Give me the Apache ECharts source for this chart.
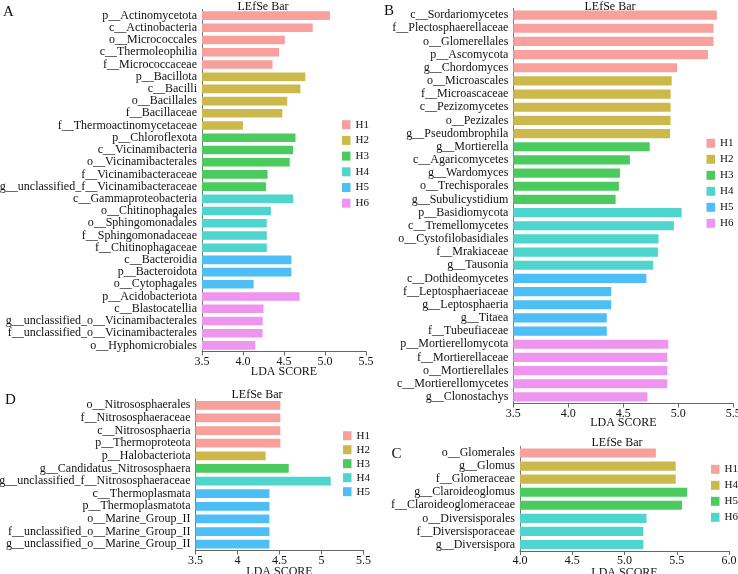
<!DOCTYPE html>
<html><head><meta charset="utf-8">
<script src="https://cdn.jsdelivr.net/npm/echarts@6/dist/echarts.min.js"></script>
<style>html,body{margin:0;padding:0;background:#fff}#c{width:738px;height:574px}</style>
</head><body><div id="c"></div>
<script>
// ---------- Panel A ----------
const labelsA = ["p__Actinomycetota","c__Actinobacteria","o__Micrococcales","c__Thermoleophilia","f__Micrococcaceae",
 "p__Bacillota","c__Bacilli","o__Bacillales","f__Bacillaceae","f__Thermoactinomycetaceae",
 "p__Chloroflexota","c__Vicinamibacteria","o__Vicinamibacterales","f__Vicinamibacteraceae","g__unclassified_f__Vicinamibacteraceae",
 "c__Gammaproteobacteria","o__Chitinophagales","o__Sphingomonadales","f__Sphingomonadaceae","f__Chitinophagaceae",
 "c__Bacteroidia","p__Bacteroidota","o__Cytophagales",
 "p__Acidobacteriota","c__Blastocatellia","g__unclassified_o__Vicinamibacterales","f__unclassified_o__Vicinamibacterales","o__Hyphomicrobiales"];
const valuesA = [5.06,4.85,4.51,4.44,4.36, 4.76,4.70,4.54,4.48,4.00, 4.64,4.61,4.57,4.30,4.28, 4.61,4.34,4.29,4.29,4.29, 4.59,4.59,4.13, 4.69,4.25,4.24,4.24,4.15];
const groupsA = ["H1","H1","H1","H1","H1","H2","H2","H2","H2","H2","H3","H3","H3","H3","H3","H4","H4","H4","H4","H4","H5","H5","H5","H6","H6","H6","H6","H6"];
const legendA = ["H1","H2","H3","H4","H5","H6"];

// ---------- Panel B ----------
const labelsB = ["c__Sordariomycetes","f__Plectosphaerellaceae","o__Glomerellales","p__Ascomycota","g__Chordomyces",
 "o__Microascales","f__Microascaceae","c__Pezizomycetes","o__Pezizales","g__Pseudombrophila",
 "g__Mortierella","c__Agaricomycetes","g__Wardomyces","o__Trechisporales","g__Subulicystidium",
 "p__Basidiomycota","c__Tremellomycetes","o__Cystofilobasidiales","f__Mrakiaceae","g__Tausonia",
 "c__Dothideomycetes","f__Leptosphaeriaceae","g__Leptosphaeria","g__Titaea","f__Tubeufiaceae",
 "p__Mortierellomycota","f__Mortierellaceae","o__Mortierellales","c__Mortierellomycetes","g__Clonostachys"];
const valuesB = [5.35,5.32,5.32,5.27,4.99, 4.94,4.93,4.93,4.93,4.925, 4.74,4.56,4.47,4.46,4.43, 5.03,4.96,4.82,4.815,4.77, 4.71,4.39,4.39,4.35,4.35, 4.91,4.90,4.90,4.90,4.72];
const groupsB = ["H1","H1","H1","H1","H1","H2","H2","H2","H2","H2","H3","H3","H3","H3","H3","H4","H4","H4","H4","H4","H5","H5","H5","H5","H5","H6","H6","H6","H6","H6"];
const legendB = ["H1","H2","H3","H4","H5","H6"];

// ---------- Panel C ----------
const labelsC = ["o__Glomerales","g__Glomus","f__Glomeraceae","g__Claroideoglomus","f__Claroideoglomeraceae","o__Diversisporales","f__Diversisporaceae","g__Diversispora"];
const valuesC = [5.30,5.49,5.49,5.60,5.55,5.21,5.18,5.18];
const groupsC = ["H1","H4","H4","H5","H5","H6","H6","H6"];
const legendC = ["H1","H4","H5","H6"];

// ---------- Panel D ----------
const labelsD = ["o__Nitrososphaerales","f__Nitrososphaeraceae","c__Nitrososphaeria","p__Thermoproteota","p__Halobacteriota",
 "g__Candidatus_Nitrososphaera","g__unclassified_f__Nitrososphaeraceae","c__Thermoplasmata","p__Thermoplasmatota",
 "o__Marine_Group_II","f__unclassified_o__Marine_Group_II","g__unclassified_o__Marine_Group_II"];
const valuesD = [4.51,4.51,4.51,4.51,4.335,4.61,5.11,4.38,4.38,4.38,4.38,4.38];
const groupsD = ["H1","H1","H1","H1","H2","H3","H4","H5","H5","H5","H5","H5"];
const legendD = ["H1","H2","H3","H4","H5"];

const palette = ["#F8A09C","#CDB94B","#4BCB5E","#4ED5CD","#4DBEF6","#EE96EF"];
const FONT = "Liberation Serif";

const panels = [
  {key:"A", labels:labelsA, values:valuesA, groups:groupsA, legend:legendA,
   grid:{left:202, top:9.5, width:164, height:342}, min:3.5, max:5.5, fixed:true, nameGap:14,
   title:{x:258, y:-4.5}, letter:{x:-2, y:-0.5}, leg:{left:342, top:119.2, gap:4.7}},
  {key:"B", labels:labelsB, values:valuesB, groups:groupsB, legend:legendB,
   grid:{left:513.3, top:8.5, width:220, height:395}, min:3.5, max:5.5, fixed:true, nameGap:13.5,
   title:{x:605, y:-4}, letter:{x:379, y:-1.5}, leg:{left:706.5, top:137.8, gap:5}},
  {key:"C", labels:labelsC, values:valuesC, groups:groupsC, legend:legendC,
   grid:{left:520, top:446.5, width:209, height:104.5}, min:4.0, max:6.0, fixed:true, nameGap:15.5,
   title:{x:612, y:432}, letter:{x:386.5, y:441.5}, leg:{left:711, top:463.8, gap:5}},
  {key:"D", labels:labelsD, values:valuesD, groups:groupsD, legend:legendD,
   grid:{left:195.5, top:399, width:168, height:151.5}, min:3.5, max:5.5, fixed:false, nameGap:15.5,
   title:{x:252, y:384}, letter:{x:0, y:387.5}, leg:{left:343, top:430.2, gap:3}}
];

const grids=[], xAxes=[], yAxes=[], series=[], titles=[], legends=[];
panels.forEach((p, pi) => {
  grids.push(Object.assign({containLabel:false, outerBoundsMode:'none'}, p.grid));
  xAxes.push({
    type:'value', gridIndex:pi, min:p.min, max:p.max, interval:0.5,
    name:'LDA SCORE', nameLocation:'middle', nameGap:p.nameGap, nameMoveOverlap:false,
    nameTextStyle:{fontFamily:FONT, fontSize:12, color:'#111'},
    axisLine:{show:true, lineStyle:{color:'#666', width:1}},
    axisTick:{show:true, length:4, lineStyle:{color:'#666'}},
    splitLine:{show:false},
    axisLabel:{fontFamily:FONT, fontSize:12, color:'#111', margin:4,
      formatter: p.fixed ? (v => v.toFixed(1)) : (v => String(v))}
  });
  yAxes.push({
    type:'category', gridIndex:pi, data:p.labels, inverse:true,
    axisLine:{show:true, lineStyle:{color:'#777', width:1}},
    axisTick:{show:false},
    axisLabel:{fontFamily:FONT, fontSize:12, color:'#111', margin:5, interval:0}
  });
  p.legend.forEach((g, gi) => {
    series.push({
      type:'bar', name:p.key+':'+g, xAxisIndex:pi, yAxisIndex:pi,
      barWidth:'70%', barGap:'-100%',
      itemStyle:{color:palette[gi]},
      data:p.values.map((v,i) => p.groups[i]===g ? v : '-')
    });
  });
  titles.push({text:'LEfSe Bar', left:p.title.x, top:p.title.y, textAlign:'center',
    textStyle:{fontFamily:FONT, fontSize:12, fontWeight:'normal', color:'#111'}});
  titles.push({text:p.key, left:p.letter.x, top:p.letter.y,
    textStyle:{fontFamily:FONT, fontSize:15, fontWeight:'normal', color:'#111'}});
  legends.push({
    data:p.legend.map(g => p.key+':'+g), orient:'vertical', left:p.leg.left, top:p.leg.top,
    padding:0, itemGap:p.leg.gap, itemWidth:8.5, itemHeight:9, icon:'rect', selectedMode:false,
    formatter: n => n.split(':')[1],
    textStyle:{fontFamily:FONT, fontSize:11, color:'#111'}
  });
});

const chart = echarts.init(document.getElementById('c'), null, {renderer:'canvas'});
chart.setOption({
  animation:false,
  backgroundColor:'#fff',
  title:titles, legend:legends, grid:grids, xAxis:xAxes, yAxis:yAxes, series:series
});
</script></body></html>
